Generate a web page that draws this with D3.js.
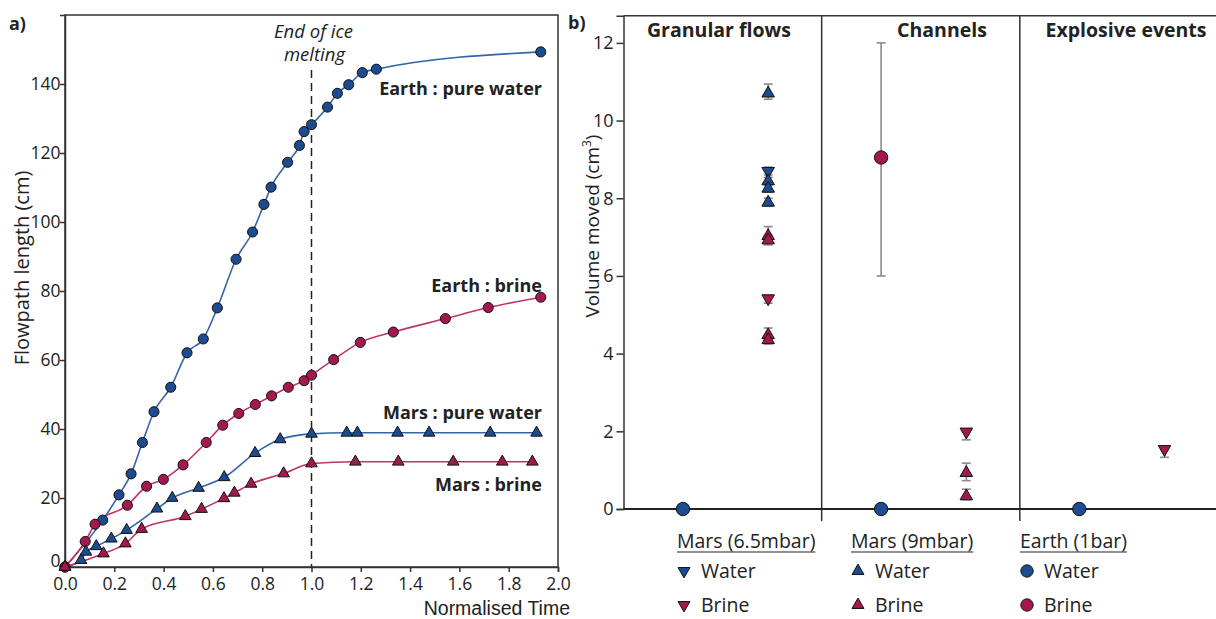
<!DOCTYPE html>
<html><head><meta charset="utf-8">
<script src="https://cdn.jsdelivr.net/npm/d3@7"></script>
<style>
html,body{margin:0;padding:0;background:#fff;}
svg{display:block;font-family:"Open Sans","Noto Sans",sans-serif;}
</style></head>
<body><svg id="c" width="1216" height="619"></svg>
<script>
// ---------- Panel a data ----------
const earthWaterT = [0, 0.153, 0.219, 0.268, 0.314, 0.361, 0.429, 0.495, 0.561, 0.618, 0.694, 0.761, 0.807, 0.836, 0.903, 0.951, 0.970, 1.0, 1.065, 1.105, 1.151, 1.206, 1.263, 1.930];
const earthWaterL = [0, 13.6, 20.9, 27, 36.1, 45, 52.1, 62.1, 66.1, 75.1, 89.2, 97.1, 105.1, 110.1, 117.3, 122.2, 126.2, 128.2, 133.3, 137.3, 139.8, 143.3, 144.3, 149.3];
const earthBrineT = [0, 0.082, 0.122, 0.253, 0.331, 0.399, 0.479, 0.573, 0.640, 0.705, 0.772, 0.838, 0.906, 0.970, 1.0, 1.090, 1.198, 1.332, 1.543, 1.717, 1.930];
const earthBrineL = [0, 7.4, 12.4, 17.9, 23.4, 25.4, 29.6, 36.1, 41.1, 44.5, 47.1, 49.6, 52.1, 54, 55.6, 60.1, 65.1, 68.1, 72.0, 75.2, 78.2];
const marsWaterT = [0, 0.065, 0.085, 0.127, 0.188, 0.250, 0.373, 0.435, 0.542, 0.646, 0.771, 0.873, 1.0, 1.143, 1.186, 1.349, 1.477, 1.725, 1.913];
const marsWaterL = [0, 2.0, 4.4, 6.0, 8.2, 10.7, 16.9, 20.0, 22.9, 26.0, 33.0, 37.0, 38.6, 38.9, 38.9, 38.9, 38.9, 38.9, 38.9];
const marsBrineT = [0, 0.156, 0.245, 0.311, 0.488, 0.554, 0.645, 0.687, 0.755, 0.887, 1.0, 1.178, 1.352, 1.575, 1.774, 1.896];
const marsBrineL = [0, 3.9, 6.8, 11.0, 14.7, 16.8, 19.9, 21.5, 24.1, 27.1, 30.0, 30.5, 30.5, 30.5, 30.5, 30.5];
const seriesNames = ["Earth : pure water", "Earth : brine", "Mars : pure water", "Mars : brine"];
const xTicksA = [0, 0.2, 0.4, 0.6, 0.8, 1.0, 1.2, 1.4, 1.6, 1.8, 2.0];
const yTicksA = [0, 20, 40, 60, 80, 100, 120, 140];

// ---------- Panel b data ----------
const sections = ["Granular flows", "Channels", "Explosive events"];
const bSection = [0,0,0,0,0,0,0,0,0,0,0, 1,1,1,1,1, 2,2];
const bSite    = ["earth","mars9","mars65","mars9","mars9","mars9","mars9","mars9","mars65","mars9","mars9",
                  "earth","earth","mars65","mars9","mars9", "earth","mars65"];
const bFluid   = ["water","water","water","water","water","water","brine","brine","brine","brine","brine",
                  "water","brine","brine","brine","brine", "water","brine"];
const bValue   = [0, 10.70, 8.70, 8.44, 8.25, 7.89, 7.03, 6.92, 5.42, 4.48, 4.35, 0, 9.05, 1.99, 0.93, 0.33, 0, 1.54];
const bLow     = [null, 10.55, 8.60, 8.36, 8.16, 7.80, 6.90, 6.80, 5.30, 4.36, 4.25, null, 6.0, 1.78, 0.73, 0.24, null, 1.33];
const bHigh    = [null, 10.94, 8.80, 8.54, 8.34, 8.00, 7.27, 7.05, 5.50, 4.66, 4.45, null, 12.0, 2.06, 1.18, 0.51, null, 1.60];
const legendGroups = ["Mars (6.5mbar)", "Mars (9mbar)", "Earth (1bar)"];
const legendSites = ["mars65", "mars9", "earth"];
const legendFluids = ["Water", "Brine"];
const yTicksB = [0, 2, 4, 6, 8, 10, 12];

// ---------- styles ----------
const BLUE = "#1d4b8f", RED = "#a3184f";
const BLUE_LINE = "#3465a4", RED_LINE = "#bf3468";
const INK = "#222";
const FONT = '"Open Sans",sans-serif';

const svg = d3.select("#c");

// ================= Panel a =================
const xa = d3.scaleLinear().domain([0, 2]).range([65, 558]);
const ya = d3.scaleLinear().domain([0, 160]).range([567, 15]);

svg.append("rect").attr("x", xa(0)).attr("y", ya(160)).attr("width", xa(2) - xa(0)).attr("height", ya(0) - ya(160))
  .attr("fill", "none").attr("stroke", "#333").attr("stroke-width", 1.5);

const gxa = svg.append("g").attr("transform", `translate(0,${ya(0)})`)
  .call(d3.axisBottom(xa).tickValues(xTicksA).tickFormat(d3.format(".1f")).tickSize(5).tickPadding(6));
const gya = svg.append("g").attr("transform", `translate(${xa(0)},0)`)
  .call(d3.axisLeft(ya).tickValues(yTicksA).tickSize(5).tickPadding(2));
[gxa, gya].forEach(g => {
  g.select(".domain").attr("stroke", "#333").attr("stroke-width", 1.5);
  g.selectAll(".tick line").attr("stroke", "#333").attr("stroke-width", 1.5);
  g.selectAll(".tick text").attr("font-size", 17.5).attr("fill", INK).attr("font-family", FONT);
});
gya.selectAll(".tick text").attr("dx", "0.15em");
gya.selectAll(".tick").filter(d => d === 0).select("text").attr("dy", "-0.05em");

// dashed line at end of ice melting
svg.append("line").attr("x1", xa(1)).attr("x2", xa(1)).attr("y1", 70).attr("y2", ya(0))
  .attr("stroke", "#222").attr("stroke-width", 1.5).attr("stroke-dasharray", "8,5");
svg.append("text").attr("x", xa(1) + 2).attr("y", 38).attr("text-anchor", "middle").attr("font-style", "italic")
  .attr("font-size", 18.5).attr("fill", INK).text("End of ice");
svg.append("text").attr("x", xa(1) + 3).attr("y", 61).attr("text-anchor", "middle").attr("font-style", "italic")
  .attr("font-size", 18.5).attr("fill", INK).text("melting");

const series = [
  {T: earthWaterT, L: earthWaterL, fill: BLUE, line: BLUE_LINE, shape: "circle"},
  {T: earthBrineT, L: earthBrineL, fill: RED, line: RED_LINE, shape: "circle"},
  {T: marsWaterT, L: marsWaterL, fill: BLUE, line: BLUE_LINE, shape: "tri"},
  {T: marsBrineT, L: marsBrineL, fill: RED, line: RED_LINE, shape: "tri"}
];
const lineGen = d3.line().x(d => xa(d[0])).y(d => ya(d[1])).curve(d3.curveMonotoneX);
series.forEach(s => {
  const pts = s.T.map((t, i) => [t, s.L[i]]);
  svg.append("path").attr("d", lineGen(pts)).attr("fill", "none").attr("stroke", s.line).attr("stroke-width", 1.6);
});
series.forEach(s => {
  const pts = s.T.map((t, i) => [t, s.L[i]]);
  const sym = d3.symbol().type(s.shape === "circle" ? d3.symbolCircle : d3.symbolTriangle).size(s.shape === "circle" ? 80 : 58);
  svg.append("g").selectAll("path").data(pts).join("path")
    .attr("d", sym).attr("transform", d => `translate(${xa(d[0])},${ya(d[1])})`)
    .attr("fill", s.fill).attr("stroke", "#111").attr("stroke-width", 1);
});

// series labels
const labelY = [95, 292, 419, 491];
seriesNames.forEach((n, i) => {
  svg.append("text").attr("x", 542).attr("y", labelY[i]).attr("text-anchor", "end")
    .attr("font-weight", "bold").attr("font-size", 18).attr("fill", INK).text(n);
});

svg.append("text").attr("transform", "translate(29,268) rotate(-90)").attr("text-anchor", "middle")
  .attr("font-size", 20).attr("fill", INK).text("Flowpath length (cm)");
svg.append("text").attr("x", 570).attr("y", 614.5).attr("text-anchor", "end")
  .attr("font-family", '"Liberation Sans",Arial,sans-serif')
  .attr("font-size", 19.5).attr("fill", INK).text("Normalised Time");
svg.append("text").attr("x", 9).attr("y", 30).attr("font-weight", "bold").attr("font-size", 18).attr("fill", INK).text("a)");

// ================= Panel b =================
const xb = d3.scaleBand().domain(sections.map((d, i) => i)).range([623.5, 1218]).paddingInner(0).paddingOuter(0);
const xsub = d3.scalePoint().domain(["earth", "mars"]).range([xb.bandwidth() * 0.3, xb.bandwidth() * 0.73]);
const yb = d3.scaleLinear().domain([0, 12.7]).range([509, 15.7]);

svg.append("line").attr("x1", 623.5).attr("x2", 1216).attr("y1", yb(12.7)).attr("y2", yb(12.7))
  .attr("stroke", "#333").attr("stroke-width", 1.5);
[1, 2].forEach(i => {
  svg.append("line").attr("x1", xb(i)).attr("x2", xb(i)).attr("y1", yb(12.7)).attr("y2", yb(0) + 12)
    .attr("stroke", "#333").attr("stroke-width", 1.5);
});
const gyb = svg.append("g").attr("transform", `translate(623.5,0)`)
  .call(d3.axisLeft(yb).tickValues(yTicksB).tickSize(7).tickPadding(3));
gyb.select(".domain").attr("stroke", "#333").attr("stroke-width", 1.5);
gyb.selectAll(".tick line").attr("stroke", "#333").attr("stroke-width", 1.5);
gyb.selectAll(".tick text").attr("font-size", 18).attr("fill", INK).attr("font-family", FONT);
svg.append("line").attr("x1", 623.5).attr("x2", 1216).attr("y1", yb(0)).attr("y2", yb(0))
  .attr("stroke", "#222").attr("stroke-width", 2.2);

// section titles
const titleX = [719, 942, 1126];
sections.forEach((s, i) => {
  svg.append("text").attr("x", titleX[i]).attr("y", 37).attr("text-anchor", "middle")
    .attr("font-weight", "bold").attr("font-size", 19.5).attr("fill", INK).text(s);
});

const ylab = svg.append("text").attr("transform", "translate(599,226) rotate(-90)").attr("text-anchor", "middle")
  .attr("font-size", 19).attr("fill", INK);
ylab.append("tspan").text("Volume moved (cm");
ylab.append("tspan").attr("font-size", 12).attr("dy", -8).text("3");
ylab.append("tspan").attr("dy", 8).text(")");
svg.append("text").attr("x", 568).attr("y", 29).attr("font-weight", "bold").attr("font-size", 18).attr("fill", INK).text("b)");

const bPts = bValue.map((v, i) => ({
  v, lo: bLow[i], hi: bHigh[i], site: bSite[i], fluid: bFluid[i],
  x: xb(bSection[i]) + xsub(bSite[i] === "earth" ? "earth" : "mars")
}));
const eb = svg.append("g").attr("stroke", "#8a8a8a").attr("stroke-width", 1.6);
bPts.filter(d => d.lo !== null).forEach(d => {
  eb.append("line").attr("x1", d.x).attr("x2", d.x).attr("y1", yb(d.lo)).attr("y2", yb(d.hi));
  [d.lo, d.hi].forEach(e => eb.append("line").attr("x1", d.x - 4.5).attr("x2", d.x + 4.5).attr("y1", yb(e)).attr("y2", yb(e)));
});
function markerPath(site, big) {
  if (site === "earth") return d3.symbol().type(d3.symbolCircle).size(big ? 140 : 120)();
  return d3.symbol().type(d3.symbolTriangle).size(big ? 68 : 62)();
}
function markerRot(site) { return site === "mars65" ? " rotate(180)" : ""; }
svg.append("g").selectAll("path").data(bPts).join("path")
  .attr("d", d => markerPath(d.site, true))
  .attr("transform", d => `translate(${d.x},${yb(d.v)})${markerRot(d.site)}`)
  .attr("fill", d => d.fluid === "water" ? BLUE : RED).attr("stroke", "#111").attr("stroke-width", 1);

// legend
const legX = [677, 851, 1020];
legendGroups.forEach((g, i) => {
  const t = svg.append("text").attr("x", legX[i]).attr("y", 548).attr("font-size", 19.5).attr("fill", INK).text(g);
  const w = t.node().getComputedTextLength();
  svg.append("line").attr("x1", legX[i]).attr("x2", legX[i] + w).attr("y1", 552).attr("y2", 552)
    .attr("stroke", INK).attr("stroke-width", 1.2);
  legendFluids.forEach((f, j) => {
    const cy = 571 + j * 34;
    const mx = legX[i] + 7;
    svg.append("path").attr("d", markerPath(legendSites[i], false))
      .attr("transform", `translate(${mx},${cy})${markerRot(legendSites[i])}`)
      .attr("fill", f === "Water" ? BLUE : RED).attr("stroke", "#111").attr("stroke-width", 1);
    svg.append("text").attr("x", legX[i] + 24).attr("y", cy + 7).attr("font-size", 19.5).attr("fill", INK).text(f);
  });
});
</script></body></html>
